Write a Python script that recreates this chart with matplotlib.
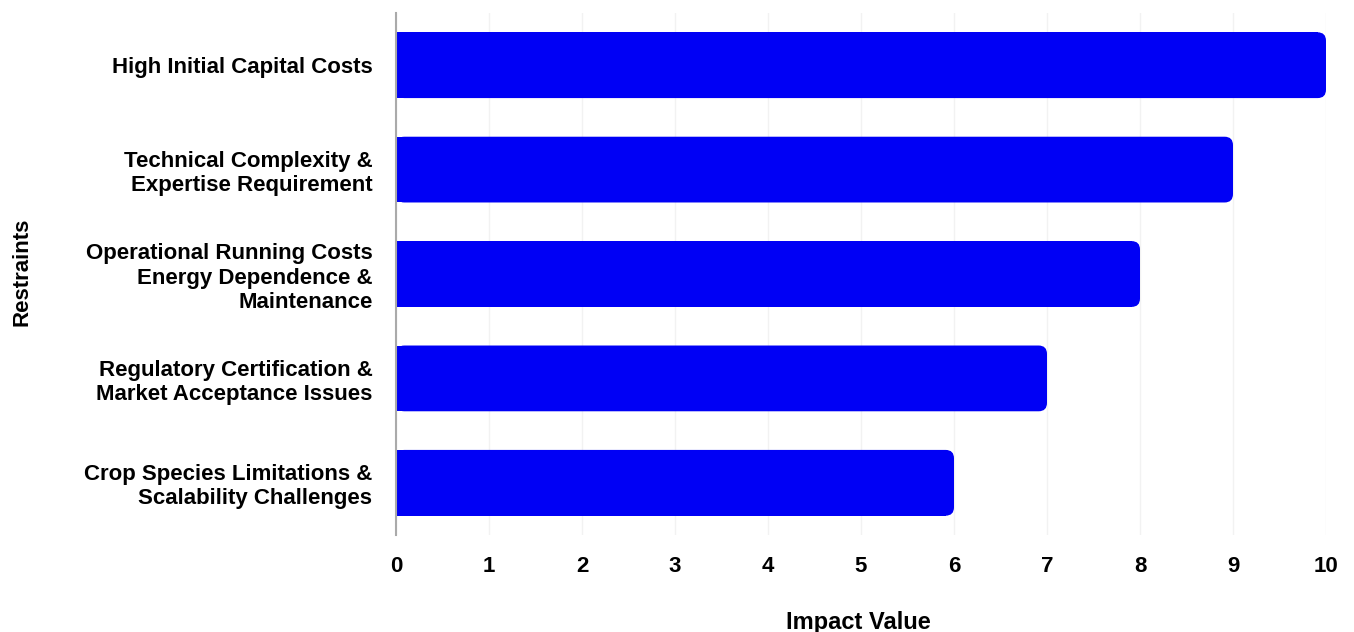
import matplotlib.pyplot as plt
import numpy as np
from matplotlib.patches import FancyBboxPatch

# Data (top to bottom)
restraints = [
    "High Initial Capital Costs",
    "Technical Complexity &\nExpertise Requirement",
    "Operational Running Costs\nEnergy Dependence &\nMaintenance",
    "Regulatory Certification &\nMarket Acceptance Issues",
    "Crop Species Limitations &\nScalability Challenges",
]
impact = [10, 9, 8, 7, 6]
x_ticks = [0, 1, 2, 3, 4, 5, 6, 7, 8, 9, 10]

bar_color = "#0000F5"
bar_h = 0.63
r = 0.09  # corner radius in x data units

plt.rcParams["font.family"] = ["Liberation Sans", "DejaVu Sans"]
plt.rcParams["font.weight"] = "bold"

fig = plt.figure(figsize=(13.54, 6.32), dpi=100)
ax = fig.add_axes([396 / 1354, 97 / 632, 930 / 1354, 522 / 632])

ypos = np.arange(len(restraints))
vals = np.array(impact, dtype=float)

# square left part
ax.barh(ypos, vals - r, height=bar_h, color=bar_color, linewidth=0, zorder=2)
# rounded right end
for y, v in zip(ypos, vals):
    p = FancyBboxPatch((0, y - bar_h / 2), v, bar_h,
                       boxstyle=f"round,pad=0,rounding_size={r}",
                       mutation_aspect=0.9, facecolor=bar_color,
                       edgecolor="none", zorder=2)
    ax.add_patch(p)

ax.set_xlim(0, 10)
ax.set_ylim(len(restraints) - 0.5, -0.5)
ax.set_yticks(ypos)
ax.set_yticklabels(restraints, fontsize=16, fontweight="bold")
ax.set_xticks(x_ticks)
ax.set_xticklabels([str(t) for t in x_ticks], fontsize=16, fontweight="bold")

ax.tick_params(axis="both", length=0)
ax.tick_params(axis="x", pad=15)
ax.tick_params(axis="y", pad=17)

ax.grid(True, axis="x", color="#f2f2f2", linewidth=1, zorder=0)
ax.set_axisbelow(True)

for s in ["top", "right", "bottom"]:
    ax.spines[s].set_visible(False)
ax.spines["left"].set_color("#aaaaaa")
ax.spines["left"].set_linewidth(1.5)

ax.set_xlabel("Impact Value", fontsize=17, fontweight="bold")
ax.set_ylabel("Restraints", fontsize=16, fontweight="bold")
ax.xaxis.set_label_coords(0.497, -0.146)
ax.yaxis.set_label_coords(-0.391, 0.504)

plt.savefig("out.png", dpi=100)
